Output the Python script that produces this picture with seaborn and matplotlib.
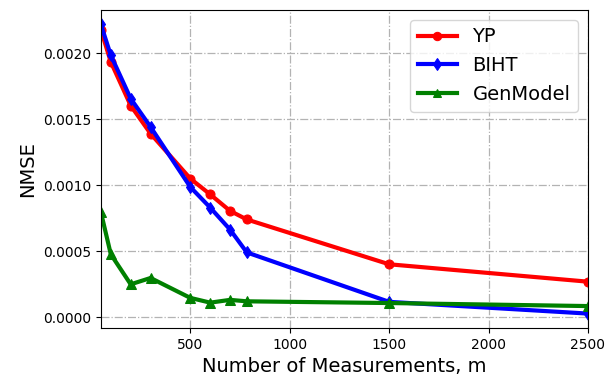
import matplotlib
matplotlib.use("Agg")
import matplotlib.pyplot as plt
import numpy as np
import pandas as pd
import seaborn as sns

# Number of measurements m
m_values = [50, 100, 200, 300, 500, 600, 700, 784, 1500, 2500]

# NMSE per method
nmse_yp = [0.00218, 0.001935, 0.001604, 0.001391, 0.00105, 0.000930, 0.000805, 0.000740, 0.000400, 0.000268]
nmse_biht = [0.00222, 0.001986, 0.001657, 0.001442, 0.000986, 0.000830, 0.000663, 0.000490, 0.000115, 0.000026]
nmse_gen = [0.000797, 0.000476, 0.000248, 0.000296, 0.000145, 0.000109, 0.000130, 0.000119, 0.000106, 0.000083]

methods = ["YP", "BIHT", "GenModel"]

df = pd.DataFrame({
    "m": m_values * 3,
    "NMSE": nmse_yp + nmse_biht + nmse_gen,
    "method": [methods[0]] * len(m_values) + [methods[1]] * len(m_values) + [methods[2]] * len(m_values),
})

palette = {"YP": "red", "BIHT": "blue", "GenModel": "green"}
markers = {"YP": "o", "BIHT": "d", "GenModel": "^"}

fig = plt.figure(figsize=(6.15, 3.81), dpi=100)
ax = fig.add_axes([0.164, 0.139, 0.792, 0.835])

sns.lineplot(data=df, x="m", y="NMSE", hue="method", style="method",
             palette=palette, markers=markers, dashes=False,
             linewidth=3, markersize=6.5,
             ax=ax)

# markers outlined in their own line colour
for line in ax.lines:
    line.set_markeredgecolor(line.get_color())

ax.set_xlim(50, 2500)
ax.set_xticks([500, 1000, 1500, 2000, 2500])
ax.set_yticks([0.0, 0.0005, 0.0010, 0.0015, 0.0020])
ax.set_yticklabels(["0.0000", "0.0005", "0.0010", "0.0015", "0.0020"])
ax.grid(True, linestyle="-.", color="0.7", linewidth=0.9)
ax.set_xlabel("Number of Measurements, m", fontsize=14)
ax.set_ylabel("NMSE", fontsize=14)
ax.tick_params(labelsize=10)
for s in ax.spines.values():
    s.set_color("black")

leg = ax.legend(loc="upper right", fontsize=14, handlelength=2)
leg.set_title(None)
for h in leg.legend_handles:
    h.set_markeredgecolor(h.get_color())
    h.set_markersize(6)

fig.savefig("out.png", dpi=100)
